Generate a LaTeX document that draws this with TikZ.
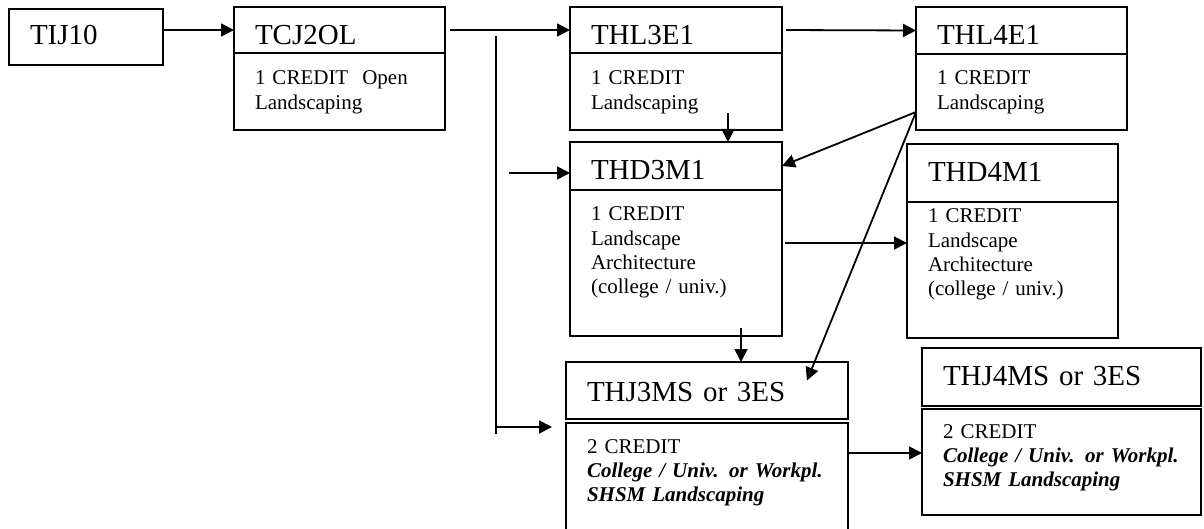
\documentclass[tikz,border=0pt]{standalone}
\usepackage{fontspec}
\setmainfont{Liberation Serif}
\usetikzlibrary{arrows.meta, positioning}

\begin{document}
\begin{tikzpicture} [x=1pt, y=-1pt,
    box/.style = {draw, line width=1.5pt, outer sep=0pt, inner xsep=21pt, inner ysep=0pt, align=left, text width=#1-42pt},
    head/.style = {box=#1, font=\fontsize{29}{34}\selectfont, text height=38pt},
    body/.style = {box=#1, font=\fontsize{21}{24.3}\selectfont},
    arr/.style = {-{Triangle[length=13pt, width=13pt]}, line width=1.8pt}]
    \useasboundingbox (0,0) rectangle (1204,529);

    \node (tij) [head=154pt, anchor=north west, text height=36pt, text depth=20pt] at (9,9) {TIJ10};

    \node (tcjh) [head=211pt, anchor=north west, text depth=8pt] at (234,7) {TCJ2OL};
    \node (tcjb) [body=211pt, below=0pt of tcjh, text height=32pt, text depth=45pt] {1 CREDIT\ \ Open\\Landscaping};

    \node (thl3h) [head=212pt, anchor=north west, text depth=8pt] at (570,7) {THL3E1};
    \node (thl3b) [body=212pt, below=0pt of thl3h, text height=32pt, text depth=45pt] {1 CREDIT\\Landscaping};

    \node (thl4h) [head=211pt, anchor=north west, text depth=9pt] at (916,7) {THL4E1};
    \node (thl4b) [body=211pt, below=0pt of thl4h, text height=31pt, text depth=45pt] {1 CREDIT\\Landscaping};

    \node (thd3h) [head=212pt, anchor=north west, text depth=10pt] at (570,142) {THD3M1};
    \node (thd3b) [body=212pt, below=0pt of thd3h, text height=31pt, text depth=115pt] {1 CREDIT\\Landscape\\Architecture\\(college / univ.)};

    \node (thd4h) [head=211pt, anchor=north west, text depth=20pt] at (907,144) {THD4M1};
    \node (thd4b) [body=211pt, below=0pt of thd4h, text height=21pt, text depth=115pt] {1 CREDIT\\Landscape\\Architecture\\(college / univ.)};

    \node (thj3h) [head=282pt, anchor=north west, text height=39pt, text depth=18pt] at (566,362) {THJ3MS or 3ES};
    \node (thj3b) [body=282pt, below=4pt of thj3h, text height=30pt, text depth=90pt] {2 CREDIT\\\textbf{\textit{College / Univ. or Workpl.}}\\\textbf{\textit{SHSM Landscaping}}};

    \node (thj4h) [head=279pt, anchor=north west, text height=37pt, text depth=21pt] at (922,348) {THJ4MS or 3ES};
    \node (thj4b) [body=279pt, below=3pt of thj4h, text height=29pt, text depth=77pt] {2 CREDIT\\\textbf{\textit{College / Univ. or Workpl.}}\\\textbf{\textit{SHSM Landscaping}}};

    % trunk from TCJ2OL down to THJ3MS
    \coordinate (trunktop) at (496,36);
    \coordinate (trunkend) at (496,434);
    \coordinate (trunkout) at (496,427);
    \coordinate (feed) at (509,173);

    \path [arr] (tij.east |- tcjh.west) edge (tcjh.west);
    \path [arr] (tcjh.east) edge [shorten <=5pt] (thl3h.west);
    \path [arr] (thl3h.east) edge [shorten <=4pt] (thl4h.west);
    \draw [line width=1.8pt] (trunktop) -- (trunkend);
    \path [arr] (trunkout) edge ([xshift=-14pt]trunkout -| thj3b.west);
    \path [arr] (feed) edge (feed -| thd3h.west);
    \path [arr] ([xshift=52pt,yshift=17pt]thl3b.south) edge ([xshift=52pt]thd3h.north);
    \path [arr] ([yshift=-20pt]thl4b.west) edge (thd3h.east);
    \path [arr] ([yshift=-20pt]thl4b.west) edge ([xshift=100pt,yshift=10pt]thj3h.center);
    \path [arr] ([yshift=20pt]thd3b.east) edge [shorten <=3pt] ([yshift=20pt]thd3b.east -| thd4b.west);
    \path [arr] ([xshift=65pt,yshift=8pt]thd3b.south) edge ([xshift=34pt]thj3h.north);
    \path [arr] ([yshift=9pt]thj4b.west -| thj3b.east) edge ([yshift=9pt]thj4b.west);
\end{tikzpicture}
\end{document}
